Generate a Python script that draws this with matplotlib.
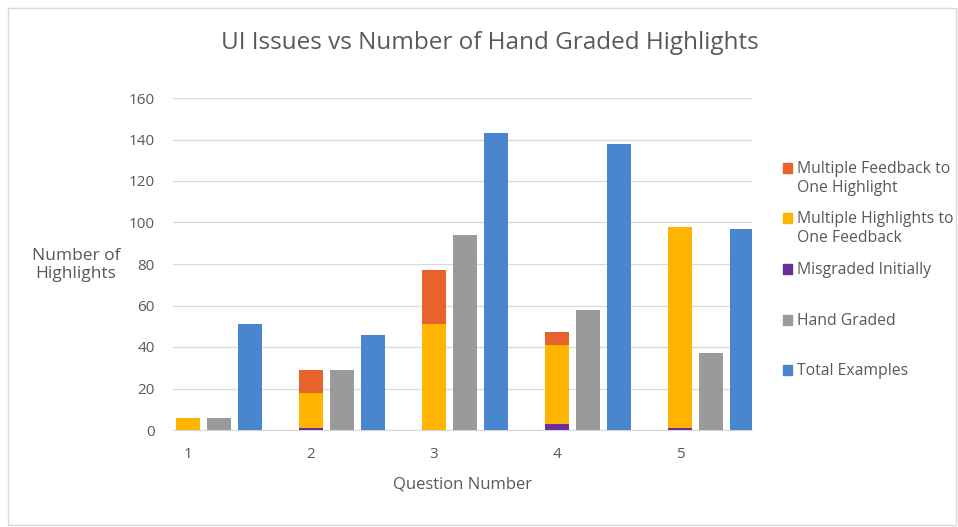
import numpy as np
import matplotlib
matplotlib.use('Agg')
import matplotlib.pyplot as plt
from matplotlib.patches import Rectangle

plt.rcParams['font.family'] = ['Open Sans', 'DejaVu Sans']

questions = [1, 2, 3, 4, 5]
misgraded = [0, 1, 0, 3, 1]
multi_highlights = [6, 17, 51, 38, 97]
multi_feedback = [0, 11, 26, 6, 0]
hand_graded = [6, 29, 94, 58, 37]
total_examples = [51, 46, 143, 138, 97]

c_orange = '#e8632b'
c_yellow = '#ffb400'
c_purple = '#6b2c9c'
c_gray = '#9a9a9a'
c_blue = '#4a86cd'
txt = '#595959'

x = np.array(questions, dtype=float)
w = 0.195

fig = plt.figure(figsize=(9.58, 5.27), dpi=100)
ax = fig.add_axes([173/958, 1 - 430/527, (752-173)/958, (430-98)/527])

mis = np.array(misgraded)
mh = np.array(multi_highlights)
mf = np.array(multi_feedback)
ax.bar(x, mis, w, color=c_purple, zorder=3)
ax.bar(x, mh, w, bottom=mis, color=c_yellow, zorder=3)
ax.bar(x, mf, w, bottom=mis + mh, color=c_orange, zorder=3)
ax.bar(x + 0.252, hand_graded, w, color=c_gray, zorder=3)
ax.bar(x + 0.504, total_examples, w, color=c_blue, zorder=3)

ax.set_xlim(0.878, 5.585)
ax.set_ylim(0, 160)
ax.set_yticks(range(0, 161, 20))
ax.set_xticks(questions)
ax.grid(axis='y', color='#d9d9d9', lw=0.9, zorder=0)
for s in ['top', 'right', 'left']:
    ax.spines[s].set_visible(False)
ax.spines['bottom'].set_color('#d9d9d9')
ax.tick_params(length=0, labelsize=11, colors=txt)
ax.tick_params(axis='y', pad=13)
ax.tick_params(axis='x', pad=12)
ax.set_xlabel('Question Number', fontsize=12, color=txt, labelpad=11)

fig.text(76/958, 1 - 265/527, 'Number of\nHighlights', ha='center', va='center',
         fontsize=12.5, color=txt, linespacing=1.15)
fig.text(490/958, 1 - 43/527, 'UI Issues vs Number of Hand Graded Highlights',
         ha='center', va='center', fontsize=17.5, color=txt)

# legend
legend_items = [
    (c_orange, 'Multiple Feedback to\nOne Highlight', 168),
    (c_yellow, 'Multiple Highlights to\nOne Feedback', 218),
    (c_purple, 'Misgraded Initially', 269),
    (c_gray, 'Hand Graded', 320),
    (c_blue, 'Total Examples', 370),
]
for col, lab, yy in legend_items:
    fig.patches.append(Rectangle((783/958, 1 - (yy + 5)/527), 9/958, 10/527,
                                 transform=fig.transFigure, color=col))
    fig.text(797/958, 1 - (yy - 7)/527, lab, ha='left', va='top', fontsize=11.3,
             color=txt, linespacing=1.25)

fig.patches.append(Rectangle((8/958, 2/527), 948/958, 517/527, transform=fig.transFigure,
                             fill=False, ec='#d9d9d9', lw=1))

plt.savefig('out.png', dpi=100)
